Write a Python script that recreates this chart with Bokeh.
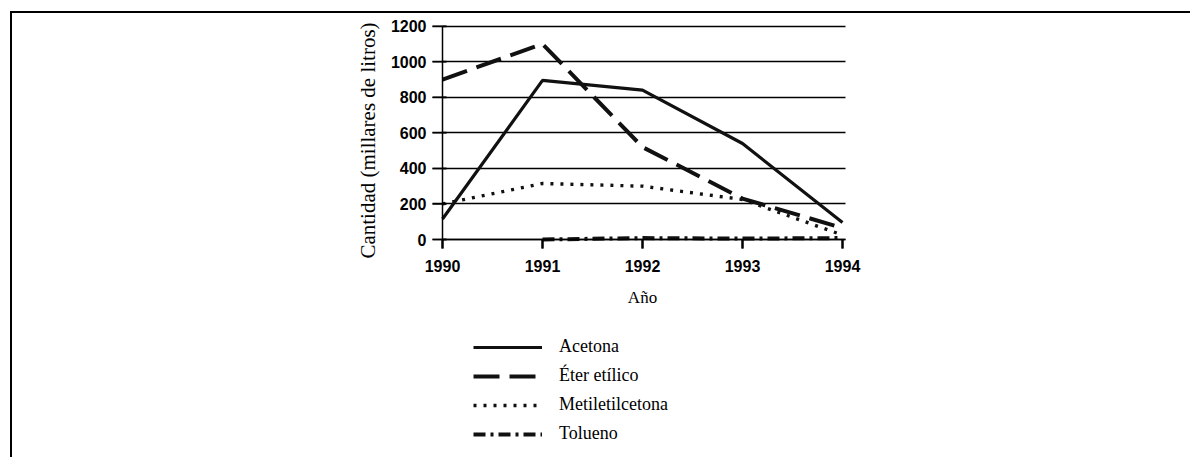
from bokeh.plotting import figure
from bokeh.models import Range1d, FixedTicker, ColumnDataSource, Label
from bokeh.embed import file_html
from bokeh.resources import INLINE
import numpy as np

years = [1990, 1991, 1992, 1993, 1994]
year_labels = ["1990", "1991", "1992", "1993", "1994"]
y_ticks = [0, 200, 400, 600, 800, 1000, 1200]

acetona = [115, 895, 840, 540, 95]
eter_etilico = [900, 1100, 520, 230, 65]
metiletilcetona = [200, 315, 300, 225, 25]
tolueno = [np.nan, 0, 8, 5, 8]

series_names = ["Acetona", "Éter etílico", "Metiletilcetona", "Tolueno"]
x_title = "Año"
y_title = "Cantidad (millares de litros)"

W, H = 1180, 446
PX_X = 100.0          # pixels per year
PX_Y = 213.3 / 1200   # pixels per unit
X0, Y0 = 430, 226     # screen position of (1990, 0)

p = figure(width=W, height=H, output_backend="svg", toolbar_location=None,
           x_range=Range1d(years[0] - X0 / PX_X, years[0] + (W - X0) / PX_X),
           y_range=Range1d(-(H - Y0) / PX_Y, Y0 / PX_Y),
           min_border_left=0, min_border_right=0,
           min_border_top=0, min_border_bottom=0)
p.styles = {"border-left": "2px solid black", "border-top": "2px solid black",
            "margin-left": "10px", "margin-top": "11px"}
p.background_fill_color = "white"
p.border_fill_color = "white"
p.outline_line_color = None

ink = "#111111"

# tick marks (x: below the zero line, y: crossing the axis)
p.segment(x0=years, y0=[0] * len(years), x1=years, y1=[-9 / PX_Y] * len(years),
          line_color="black", line_width=2)
p.segment(x0=[years[0] - 10 / PX_X] * len(y_ticks), y0=y_ticks,
          x1=[years[0] + 4 / PX_X] * len(y_ticks), y1=y_ticks,
          line_color="black", line_width=1.5)

src = ColumnDataSource(dict(x=years, a=acetona, e=eter_etilico, m=metiletilcetona, t=tolueno))
p.line("x", "a", source=src, line_color=ink, line_width=3.2, legend_label=series_names[0])
p.line("x", "e", source=src, line_color=ink, line_width=4, line_dash="26 10",
       legend_label=series_names[1])
p.line("x", "m", source=src, line_color=ink, line_width=3.4, line_dash="3 7",
       legend_label=series_names[2])
p.line("x", "t", source=src, line_color=ink, line_width=4, line_dash="12 5 3 5",
       legend_label=series_names[3])

# x axis drawn at y = 0
xa = p.xaxis[0]
xa.fixed_location = 0
xa.bounds = (years[0], years[-1] + 0.03)
xa.ticker = FixedTicker(ticks=years)
xa.major_label_overrides = {y: l for y, l in zip(years, year_labels)}
xa.axis_line_color = "black"
xa.axis_line_width = 1.5
xa.major_tick_out = 9
xa.major_tick_in = 0
xa.major_tick_line_color = "black"
xa.major_tick_line_width = 2
xa.minor_tick_line_color = None
xa.major_label_standoff = 11
xa.major_label_text_font = "Liberation Sans"
xa.major_label_text_font_style = "bold"
xa.major_label_text_font_size = "16px"
xa.major_label_text_color = "black"

# y axis drawn at x = 1990
ya = p.yaxis[0]
ya.fixed_location = years[0]
ya.bounds = (y_ticks[0], y_ticks[-1])
ya.ticker = FixedTicker(ticks=y_ticks)
ya.axis_line_color = "black"
ya.axis_line_width = 1.5
ya.major_tick_out = 10
ya.major_tick_in = 4
ya.major_tick_line_color = "black"
ya.major_tick_line_width = 1.5
ya.minor_tick_line_color = None
ya.major_label_standoff = 6
ya.major_label_text_font = "Liberation Sans"
ya.major_label_text_font_style = "bold"
ya.major_label_text_font_size = "16px"
ya.major_label_text_color = "black"

p.xgrid.grid_line_color = None
p.ygrid.ticker = FixedTicker(ticks=y_ticks)
p.ygrid.cross_bounds = (years[0], years[-1] + 0.03)
p.ygrid.grid_line_color = "black"
p.ygrid.grid_line_width = 1.5

# axis titles
p.add_layout(Label(x=years[0], y=0, x_offset=-75, y_offset=99, text=y_title, angle=np.pi / 2,
                   text_align="center", text_baseline="middle",
                   text_font="Liberation Serif", text_font_size="21px", text_color="black"))
p.add_layout(Label(x=(years[0] + years[-1]) / 2, y=0, y_offset=-58, text=x_title,
                   text_align="center", text_baseline="middle",
                   text_font="Liberation Serif", text_font_size="17px", text_color="black"))

lg = p.legend[0]
lg.location = (461, 15)
lg.border_line_color = None
lg.background_fill_alpha = 0
lg.padding = 0
lg.margin = 0
lg.spacing = 8
lg.glyph_width = 69
lg.glyph_height = 20
lg.label_height = 20
lg.label_standoff = 17
lg.label_text_font = "Liberation Serif"
lg.label_text_font_size = "18px"
lg.label_text_color = "black"

open("out.html", "w").write(file_html(p, INLINE))
